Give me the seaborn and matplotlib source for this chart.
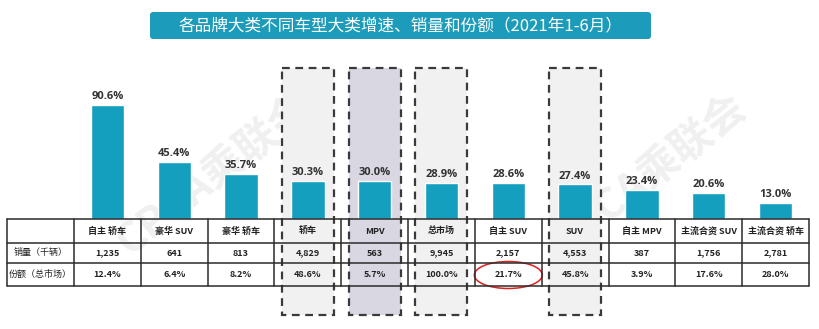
import matplotlib
matplotlib.use("Agg")
import matplotlib.pyplot as plt
import seaborn as sns
from matplotlib.patches import Rectangle, FancyBboxPatch, Ellipse

sns.set_theme(style="white")
plt.rcParams['font.family'] = ['Noto Sans CJK SC', 'DejaVu Sans']

# ---- data ----
categories = ['自主 轿车', '豪华 SUV', '豪华 轿车', '轿车', 'MPV', '总市场',
              '自主 SUV', 'SUV', '自主 MPV', '主流合资 SUV', '主流合资 轿车']
growth = [90.6, 45.4, 35.7, 30.3, 30.0, 28.9, 28.6, 27.4, 23.4, 20.6, 13.0]
sales = [1235, 641, 813, 4829, 563, 9945, 2157, 4553, 387, 1756, 2781]
share = [12.4, 6.4, 8.2, 48.6, 5.7, 100.0, 21.7, 45.8, 3.9, 17.6, 28.0]
row_labels = ['销量（千辆）', '份额（总市场）']
title = '各品牌大类不同车型大类增速、销量和份额（2021年1-6月）'
watermark = 'CPCA乘联会'
boxed = {'轿车': '#f1f1f1', 'MPV': '#d8d7e2', '总市场': '#f1f1f1', 'SUV': '#f1f1f1'}
circled = '自主 SUV'

BAR_COLOR = '#149fbf'
W, H = 820, 329

# ---- layout (pixels) ----
TABLE_L, FIRST_COL, TABLE_R = 7, 74, 809
ROWS_Y = [219, 243, 263, 286]
COL_W = (TABLE_R - FIRST_COL) / len(categories)
PLOT_TOP = 60
PX_PER_PCT = 1.26


def col_center(i):
    return FIRST_COL + (i + 0.5) * COL_W


fig = plt.figure(figsize=(W / 100, H / 100), dpi=100)

# background layer: highlighted column frames and faint watermark
bg = fig.add_axes([0, 0, 1, 1], zorder=0)
bg.set_xlim(0, W)
bg.set_ylim(H, 0)
bg.axis('off')
for wx, wy in [(215, 175), (650, 175)]:
    bg.text(wx, wy, watermark, rotation=38, ha='center', va='center',
            fontsize=30, fontweight='bold', color='#f0f0f0', zorder=0)
for i, cat in enumerate(categories):
    if cat in boxed:
        cx = col_center(i)
        bg.add_patch(Rectangle((cx - 26, 68), 52, 247, facecolor=boxed[cat],
                               edgecolor='#3a3a3a', lw=1.6, ls=(0, (3.5, 2.5)),
                               zorder=1))

# bar layer
ax = fig.add_axes([FIRST_COL / W, (H - ROWS_Y[0]) / H,
                   (TABLE_R - FIRST_COL) / W, (ROWS_Y[0] - PLOT_TOP) / H], zorder=1)
ax.patch.set_alpha(0)
sns.barplot(x=categories, y=growth, color=BAR_COLOR, saturation=1, width=0.5, ax=ax)
ax.set_xlim(-0.5, len(categories) - 0.5)
ax.set_ylim(0, (ROWS_Y[0] - PLOT_TOP) / PX_PER_PCT)
ax.bar_label(ax.containers[0], fmt='%.1f%%', padding=2, fontsize=8,
             fontweight='bold', color='#333333', family=['Open Sans', 'DejaVu Sans'])
ax.set_xticks([])
ax.set_yticks([])
ax.set_xlabel('')
ax.set_ylabel('')
for s in ax.spines.values():
    s.set_visible(False)

# overlay layer: table, title, annotation
ov = fig.add_axes([0, 0, 1, 1], zorder=2)
ov.set_xlim(0, W)
ov.set_ylim(H, 0)
ov.axis('off')
ov.patch.set_alpha(0)

line_kw = dict(color='#2b2b2b', lw=1.1)
for y in ROWS_Y:
    ov.plot([TABLE_L, TABLE_R], [y, y], **line_kw)
xs = [TABLE_L, FIRST_COL] + [FIRST_COL + (i + 1) * COL_W for i in range(len(categories))]
for x in xs:
    ov.plot([x, x], [ROWS_Y[0], ROWS_Y[-1]], **line_kw)

mid = [(ROWS_Y[k] + ROWS_Y[k + 1]) / 2 for k in range(3)]
txt_kw = dict(ha='center', va='center', fontsize=6.5, color='#222222')
for i, cat in enumerate(categories):
    cx = col_center(i)
    ov.text(cx, mid[0], cat, fontweight='bold', **txt_kw)
    ov.text(cx, mid[1], f'{sales[i]:,}', fontweight='bold', **txt_kw)
    ov.text(cx, mid[2], f'{share[i]:.1f}%', fontweight='bold', **txt_kw)
for k, lab in enumerate(row_labels):
    ov.text((TABLE_L + FIRST_COL) / 2, mid[k + 1], lab, **txt_kw)

ci = categories.index(circled)
ov.add_patch(Ellipse((col_center(ci), mid[2] + 0.5), 68, 27, facecolor='none',
                     edgecolor='#e02020', lw=1.1))

# title banner
ov.add_patch(FancyBboxPatch((150, 12), 501, 27, boxstyle='round,pad=0,rounding_size=3',
                            facecolor='#1c9cba', edgecolor='none'))
ov.text(400.5, 25.5, title, ha='center', va='center', fontsize=12, color='white')

fig.savefig('out.png', dpi=100)
